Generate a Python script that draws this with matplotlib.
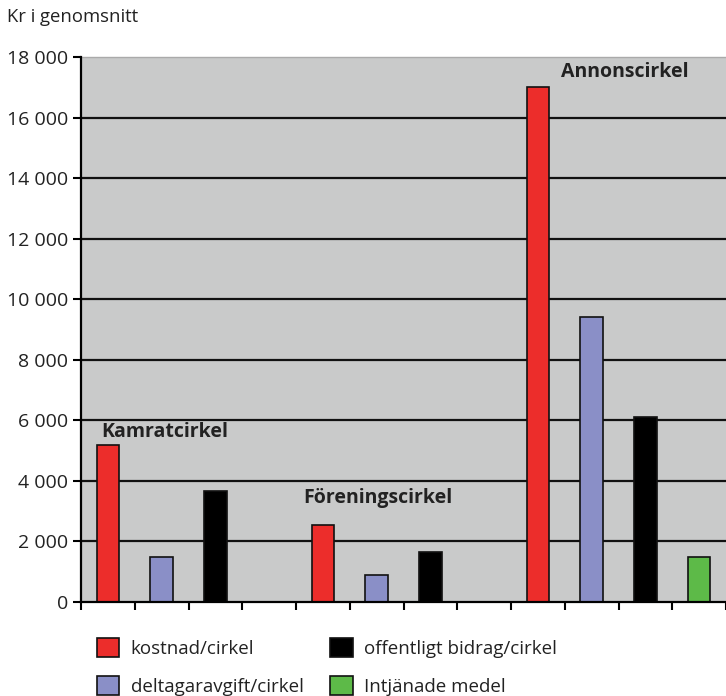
import matplotlib.pyplot as plt
import numpy as np

groups = ['Kamratcirkel', 'Föreningscirkel', 'Annonscirkel']
series = ['kostnad/cirkel', 'deltagaravgift/cirkel',
          'offentligt bidrag/cirkel', 'Intjänade medel']
kostnad = [5200, 2550, 17000]
deltagaravgift = [1500, 900, 9400]
offentligt = [3650, 1650, 6100]
intjanade = [np.nan, np.nan, 1500]
yticks = [0, 2000, 4000, 6000, 8000, 10000, 12000, 14000, 16000, 18000]
ytick_labels = ['0', '2 000', '4 000', '6 000', '8 000', '10 000',
                '12 000', '14 000', '16 000', '18 000']

colors = ['#ec2d2b', '#8a8fc7', '#000000', '#5dba48']
values = [kostnad, deltagaravgift, offentligt, intjanade]

plt.rcParams['font.family'] = ['Open Sans', 'DejaVu Sans']

fig = plt.figure(figsize=(7.26, 6.96), dpi=100)
ax = fig.add_axes([81 / 726, 1 - 602 / 696, 645 / 726, 545 / 696])
ax.set_facecolor('#c9caca')

n_series = len(series)
x_groups = np.arange(len(groups)) * n_series
for i, (vals, col) in enumerate(zip(values, colors)):
    ax.bar(x_groups + i, vals, width=0.42, color=col, edgecolor='#111111',
           linewidth=1.2, label=series[i], zorder=3)

ax.set_ylim(0, 18000)
ax.set_xlim(-0.5, -0.5 + 645 / 54.4)
ax.set_yticks(yticks)
ax.set_yticklabels(ytick_labels, fontsize=14, color='#222222')
ax.set_xticks(np.arange(0, 13) - 0.5)
ax.set_xticklabels([])
ax.tick_params(axis='y', length=6, width=1.5, pad=3)
ax.tick_params(axis='x', length=6, width=1.5, direction='out')
for y in yticks[1:-1]:
    ax.axhline(y, color='#111111', linewidth=1.6, zorder=1)

ax.spines['right'].set_visible(False)
ax.spines['top'].set_color('#aaaaaa')
ax.spines['top'].set_linewidth(1)
ax.spines['left'].set_linewidth(1.6)
ax.spines['bottom'].set_linewidth(1.6)
ax.spines['left'].set_zorder(4)
ax.spines['bottom'].set_zorder(4)

label_pos = [(-0.13, 5600), (3.63, 3450), (8.43, 17500)]
for g, (lx, ly) in zip(groups, label_pos):
    ax.text(lx, ly, g, fontsize=14, fontweight='bold', color='#222222',
            va='center', ha='left', zorder=5)

fig.text(7 / 726, 1 - 17 / 696, 'Kr i genomsnitt', fontsize=13.3,
         color='#222222', va='center', ha='left')

handles, labels = ax.get_legend_handles_labels()
fig.legend(handles, labels, ncol=2, loc='upper left',
           bbox_to_anchor=(80 / 726, 1 - 621 / 696), frameon=False,
           fontsize=13.5, handlelength=1.2, handleheight=1.2,
           handletextpad=0.6, labelspacing=0.95, columnspacing=1.43,
           labelcolor='#222222')

fig.savefig('out.png', dpi=100)
